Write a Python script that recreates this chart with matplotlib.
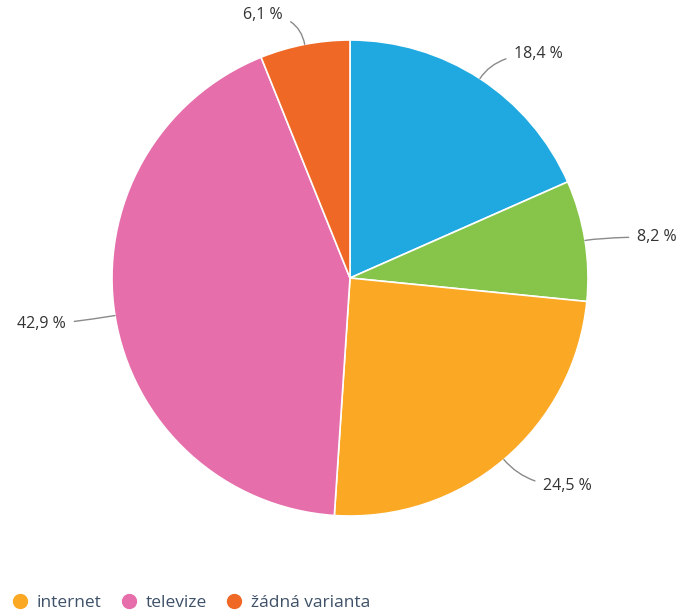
import matplotlib.pyplot as plt
import numpy as np
from matplotlib.lines import Line2D

# Pie data, clockwise from 12 o'clock
shares = [18.4, 8.2, 24.5, 42.9, 6.1]
share_labels = ["18,4 %", "8,2 %", "24,5 %", "42,9 %", "6,1 %"]
colors = ["#20a9e0", "#87c44a", "#fba824", "#e56eab", "#f06825"]

# Legend entries visible in the reference
legend_names = ["internet", "televize", "žádná varianta"]
legend_colors = ["#fba824", "#e56eab", "#f06825"]

W, H = 681, 615
fig = plt.figure(figsize=(W / 100, H / 100), dpi=100)
ax = fig.add_axes([0, 0, 1, 1])

center = (350, 337)
radius = 238
wedges, _ = ax.pie(
    shares,
    colors=colors,
    startangle=90,
    counterclock=False,
    center=center,
    radius=radius,
    wedgeprops=dict(edgecolor="white", linewidth=1.2),
)
ax.set_xlim(0, W)
ax.set_ylim(0, H)
ax.set_aspect("equal")
ax.axis("off")

# label anchors (text positions) and alignment
label_pos = [(514, 561), (637, 378), (543, 129), (66, 291), (283, 600)]
label_ha = ["left", "left", "left", "right", "right"]

for w, txt, pos, ha in zip(wedges, share_labels, label_pos, label_ha):
    ang = np.deg2rad((w.theta1 + w.theta2) / 2)
    xy = (center[0] + radius * np.cos(ang), center[1] + radius * np.sin(ang))
    ax.annotate(
        txt, xy=xy, xytext=pos, ha=ha, va="center",
        fontsize=11.5, color="#333333", family="Open Sans",
        arrowprops=dict(
            arrowstyle="-", color="#8a8a8a", lw=1,
            shrinkA=4, shrinkB=0,
            connectionstyle=f"angle3,angleA=0,angleB={np.rad2deg(ang):.1f}",
        ),
    )

handles = [
    Line2D([], [], marker="o", linestyle="", markersize=10,
           markerfacecolor=c, markeredgecolor=c)
    for c in legend_colors
]
fig.legend(
    handles, legend_names, loc="center left", bbox_to_anchor=(11 / W, 1 - 603 / H),
    ncol=3, frameon=False, handlelength=1.0, handletextpad=0.45,
    columnspacing=1.1, borderpad=0, borderaxespad=0,
    prop=dict(family="Open Sans", size=12.5), labelcolor="#3e5168",
)

fig.savefig("out.png", dpi=100)
